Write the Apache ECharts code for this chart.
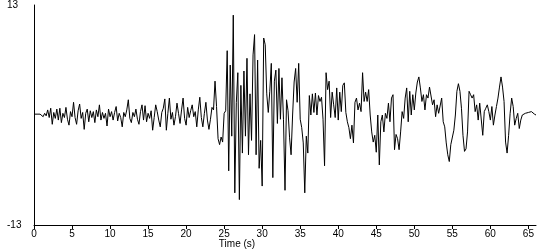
<!DOCTYPE html>
<html>
<head>
<meta charset="utf-8">
<script src="https://cdn.jsdelivr.net/npm/echarts@6/dist/echarts.min.js"></script>
<style>
html,body{margin:0;padding:0;background:#fff;}
#chart{width:550px;height:250px;}
</style>
</head>
<body>
<div id="chart"></div>
<script>
// Sampling step of the record (seconds)
const sampleStep = 0.2;

// Ground acceleration (cm/s/s), one value every 0.2 s from 0 to 66 s
const acceleration = [
  // 0.0 - 11.8 s
  0.1,0.1,0.1,0.0,0.1,0.0,-0.2,0.2,-0.1,0.6,
  -0.3,0.8,-1.1,0.3,-0.4,0.7,-0.6,0.8,-0.9,0.2,
  -0.3,0.9,-0.5,-1.2,0.4,-0.2,1.5,-0.3,-1.1,0.5,
  1.3,-0.4,0.3,-1.7,0.2,0.7,-0.8,0.5,-0.3,0.4,
  -0.9,0.6,-0.2,1.2,-0.6,0.3,-0.4,0.2,-1.3,0.7,
  -0.2,0.4,-0.6,0.3,1.0,-0.7,0.2,-0.3,-1.4,0.3,
  // 12.0 - 23.0 s
  -0.2,0.6,1.8,-0.4,-0.9,0.3,-0.2,0.7,-0.5,-1.1,
  0.4,1.2,-0.6,1.1,-0.8,0.2,-0.4,0.5,-1.8,-0.3,
  1.2,0.4,-0.6,-1.4,0.3,0.8,1.9,-1.8,0.2,2.0,
  -0.5,0.3,-1.2,-0.2,1.4,0.2,-1.0,0.6,2.0,-0.4,
  -1.2,0.9,-0.3,0.5,1.2,-0.2,0.4,-1.4,0.6,2.1,
  -0.3,-1.4,0.2,1.5,-0.6,-1.7,
  // 23.2 - 39.0 s
  -0.5,0.9,0.6,4.0,1.0,-2.8,-3.5,-2.6,-3.2,0.2,
  0.5,7.6,-6.6,5.9,-2.5,11.8,-9.2,1.5,5.0,-10.0,
  3.5,-4.5,5.2,-2.5,6.7,-4.7,2.5,-3.0,7.1,9.5,
  -4.7,6.5,-6.3,-3.0,-8.4,9.1,8.3,2.5,0.3,2.8,
  6.1,-7.4,4.0,5.3,-1.0,5.5,-0.5,4.4,-0.5,-8.9,
  1.8,0.5,-2.7,-4.7,0.0,3.9,5.5,1.5,6.1,-0.5,
  -1.5,-3.3,-9.2,-2.5,-4.5,2.3,0.0,2.5,0.3,2.6,
  0.0,2.3,1.6,2.1,-0.5,-6.0,5.0,3.0,4.0,-0.3,
  // 39.2 - 48.0 s
  2.7,1.2,-0.3,3.2,-0.6,2.7,0.4,3.5,3.8,0.3,
  -0.8,-1.5,-2.8,-1.2,-3.3,1.5,2.0,0.6,1.4,0.4,
  5.0,1.6,2.7,1.6,3.0,0.0,-2.0,-3.2,-2.4,-4.4,
  0.0,-5.9,-0.8,0.0,-2.0,0.2,-0.4,1.4,-0.8,2.0,
  2.4,-4.1,-2.3,-2.8,-4.1,
  // 48.2 - 66.0 s
  -2.0,0.4,-0.4,2.0,3.2,-0.8,2.8,0.0,2.4,0.6,
  2.6,3.9,4.5,3.2,1.6,2.4,0.6,2.4,2.0,3.3,
  3.2,1.2,1.8,-0.2,1.2,0.2,0.0,2.0,-0.8,-1.4,
  -3.3,-4.7,-5.5,-3.5,-3.7,-1.8,0.0,2.8,3.7,2.8,
  0.8,-2.4,-4.3,-4.0,-2.0,2.8,2.4,2.0,2.4,0.4,
  1.2,-0.6,1.4,1.2,-2.4,0.4,0.8,1.2,0.4,-0.6,
  1.0,-1.2,0.0,1.0,2.0,3.3,4.5,3.3,1.6,-3.2,
  -4.5,-2.4,0.2,2.0,1.0,-1.2,-0.4,0.2,-1.6,-0.6,
  0.0,-0.2,0.2,0.1,0.3,0.5,0.4,0.2,0.1,0.0
];

const xTickValues = [0,5,10,15,20,25,30,35,40,45,50,55,60,65];
const yTickValues = [-13,13];
const xAxisTitle = 'Time (s)';
const yAxisTitle = 'cm/s/s';

const points = acceleration.map((v, i) => [Math.round(i * sampleStep * 10) / 10, v]);

const FONT = '"Liberation Sans", Arial, sans-serif';
const chart = echarts.init(document.getElementById('chart'), null, {renderer: 'canvas'});
chart.setOption({
  animation: false,
  backgroundColor: '#ffffff',
  grid: {left: 34, right: 14, top: 5, bottom: 25, containLabel: false, outerBoundsMode: 'none'},
  xAxis: {
    type: 'value',
    min: 0,
    max: 66,
    axisLine: {onZero: false, lineStyle: {color: '#000', width: 1}},
    axisTick: {show: true, length: 4, customValues: xTickValues, lineStyle: {color: '#000', width: 1}},
    axisLabel: {customValues: xTickValues, color: '#000', fontFamily: FONT, fontSize: 10, margin: 4},
    splitLine: {show: false}
  },
  yAxis: {
    type: 'value',
    min: -13,
    max: 13,
    name: yAxisTitle,
    nameLocation: 'middle',
    nameGap: 20,
    nameRotate: 90,
    nameTextStyle: {color: '#000', fontFamily: FONT, fontSize: 10},
    axisLine: {show: true, onZero: false, lineStyle: {color: '#000', width: 1}},
    axisTick: {show: false},
    axisLabel: {customValues: yTickValues, color: '#000', fontFamily: FONT, fontSize: 10, align: 'left', margin: 27, padding: [4, 0, 0, 0]},
    splitLine: {show: false}
  },
  graphic: [{
    type: 'text',
    x: 237,
    y: 239,
    style: {text: xAxisTitle, fill: '#000', font: '10px ' + FONT, align: 'center', verticalAlign: 'top'}
  }],
  series: [{
    type: 'line',
    data: points,
    showSymbol: false,
    symbol: 'none',
    silent: true,
    lineStyle: {color: '#000', width: 1},
    itemStyle: {color: '#000'}
  }]
});
</script>
</body>
</html>
